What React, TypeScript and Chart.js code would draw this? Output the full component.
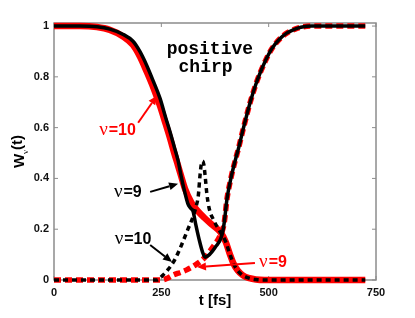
import React, { useEffect, useRef } from "react";
import { Chart, registerables } from "chart.js";
Chart.register(...registerables);

const xTicks = [0, 250, 500, 750];
const xTickLabels = ["0", "250", "500", "750"];
const yTicks = [0, 0.2, 0.4, 0.6, 0.8, 1];
const yTickLabels = ["0", "0.2", "0.4", "0.6", "0.8", "1"];

// nu=10 (red solid)
const redSolidT = [0, 60, 100, 130, 160, 184, 200, 216, 232, 247, 260, 270, 280, 289, 296, 305, 320, 333, 350, 370, 387, 400, 410, 418, 428, 440, 455, 470, 490, 725];
const redSolidW = [1, 1, 0.996, 0.985, 0.96, 0.925, 0.88, 0.82, 0.755, 0.685, 0.615, 0.56, 0.5, 0.45, 0.41, 0.36, 0.305, 0.275, 0.245, 0.215, 0.19, 0.15, 0.1, 0.065, 0.037, 0.018, 0.007, 0.002, 0, 0];

// nu=9 (red dashed)
const redDashT = [0, 250, 265, 278, 295, 309, 330, 352, 370, 387, 396, 403, 412, 422, 430, 440, 457, 470, 480, 493, 507, 525, 542, 560, 575, 600, 725];
const redDashW = [0, 0, 0.008, 0.02, 0.03, 0.04, 0.06, 0.09, 0.13, 0.175, 0.22, 0.32, 0.4, 0.47, 0.52, 0.59, 0.7, 0.77, 0.815, 0.865, 0.91, 0.948, 0.972, 0.987, 0.995, 1, 1];

// nu=9 (black solid)
const blackSolidT = [0, 60, 100, 130, 160, 184, 200, 216, 232, 247, 260, 270, 280, 289, 296, 304, 312, 318, 324, 330, 338, 346, 352, 362, 376, 390, 396, 403, 412, 422, 430, 440, 457, 470, 480, 493, 507, 525, 542, 560, 575, 600, 725];
const blackSolidW = [1, 1, 0.997, 0.988, 0.968, 0.94, 0.9, 0.845, 0.78, 0.715, 0.64, 0.585, 0.525, 0.47, 0.41, 0.35, 0.3, 0.283, 0.27, 0.22, 0.16, 0.11, 0.09, 0.1, 0.13, 0.17, 0.22, 0.32, 0.4, 0.47, 0.52, 0.59, 0.7, 0.77, 0.815, 0.865, 0.91, 0.948, 0.972, 0.987, 0.995, 1, 1];

// nu=10 (black dashed)
const blackDashT = [0, 240, 254, 265, 278, 290, 300, 312, 324, 331, 336, 340, 343, 346, 349, 352, 356, 361, 372, 387, 400, 410, 418, 428, 440, 455, 470, 490, 725];
const blackDashW = [0, 0, 0.02, 0.04, 0.07, 0.11, 0.15, 0.2, 0.25, 0.29, 0.33, 0.41, 0.455, 0.468, 0.455, 0.41, 0.34, 0.285, 0.235, 0.19, 0.15, 0.1, 0.065, 0.037, 0.018, 0.007, 0.002, 0, 0];

const RED = "#ff0000";
const BLACK = "#000000";

// annotation labels
const noteSuffix = ["=10", "=9", "=10", "=9"];
const noteColor = [RED, BLACK, BLACK, RED];
const noteT = [148, 172, 184, 510];
const noteW = [0.588, 0.343, 0.158, 0.067];
const arrowFromT = [196, 224, 224, 468];
const arrowFromW = [0.619, 0.347, 0.138, 0.067];
const arrowToT = [240, 289, 275, 333];
const arrowToW = [0.726, 0.379, 0.071, 0.051];

const titleLines = ["positive", "chirp"];
const titleT = [363, 353];
const titleW = [0.907, 0.836];

const pts = (t: number[], w: number[]) => t.map((x, i) => ({ x, y: w[i] }));

const decorPlugin = {
  id: "decor",
  beforeDatasetsDraw(chart: any) {
    const { ctx, chartArea: a, scales } = chart;
    ctx.save();
    ctx.strokeStyle = "#8c8c8c";
    ctx.lineWidth = 1.5;
    ctx.strokeRect(a.left, a.top, a.right - a.left, a.bottom - a.top);
    const tl = 4;
    ctx.lineWidth = 1;
    ctx.beginPath();
    xTicks.forEach((v) => {
      const x = scales.x.getPixelForValue(v);
      ctx.moveTo(x, a.bottom);
      ctx.lineTo(x, a.bottom - tl);
      ctx.moveTo(x, a.top);
      ctx.lineTo(x, a.top + tl);
    });
    yTicks.forEach((v) => {
      const y = scales.y.getPixelForValue(v);
      ctx.moveTo(a.left, y);
      ctx.lineTo(a.left + tl, y);
      ctx.moveTo(a.right, y);
      ctx.lineTo(a.right - tl, y);
    });
    ctx.stroke();
    ctx.restore();
  },
  afterDatasetsDraw(chart: any) {
    const { ctx, chartArea: a, scales } = chart;
    const X = (v: number) => scales.x.getPixelForValue(v);
    const Y = (v: number) => scales.y.getPixelForValue(v);
    ctx.save();
    ctx.fillStyle = "#000";
    ctx.font = "bold 18px 'Liberation Mono', 'DejaVu Sans Mono', monospace";
    ctx.textAlign = "center";
    ctx.textBaseline = "middle";
    titleLines.forEach((s, i) => ctx.fillText(s, X(titleT[i]), Y(titleW[i])));

    noteSuffix.forEach((suf, i) => {
      const col = noteColor[i];
      ctx.fillStyle = col;
      ctx.strokeStyle = col;
      ctx.font = "19px 'Liberation Serif', 'DejaVu Serif', serif";
      const wNu = ctx.measureText("ν").width;
      ctx.font = "bold 16px 'Liberation Sans', Arial, sans-serif";
      const wSuf = ctx.measureText(suf).width;
      const total = wNu + 1 + wSuf;
      const cx = X(noteT[i]);
      const cy = Y(noteW[i]);
      const x0 = cx - total / 2;
      ctx.textAlign = "left";
      ctx.textBaseline = "middle";
      ctx.font = "19px 'Liberation Serif', 'DejaVu Serif', serif";
      ctx.fillText("ν", x0, cy - 1);
      ctx.font = "bold 16px 'Liberation Sans', Arial, sans-serif";
      ctx.fillText(suf, x0 + wNu + 1, cy);

      const fx = X(arrowFromT[i]), fy = Y(arrowFromW[i]);
      const tx = X(arrowToT[i]), ty = Y(arrowToW[i]);
      const ang = Math.atan2(ty - fy, tx - fx);
      const hl = 9, hw = 4;
      const bx = tx - hl * Math.cos(ang), by = ty - hl * Math.sin(ang);
      ctx.lineWidth = 2;
      ctx.beginPath();
      ctx.moveTo(fx, fy);
      ctx.lineTo(bx, by);
      ctx.stroke();
      ctx.beginPath();
      ctx.moveTo(tx, ty);
      ctx.lineTo(bx + hw * Math.sin(ang), by - hw * Math.cos(ang));
      ctx.lineTo(bx - hw * Math.sin(ang), by + hw * Math.cos(ang));
      ctx.closePath();
      ctx.fill();
    });

    ctx.fillStyle = "#000";
    ctx.textAlign = "center";
    ctx.textBaseline = "middle";
    ctx.font = "bold 15px 'Liberation Sans', Arial, sans-serif";
    ctx.fillText("t [fs]", (a.left + a.right) / 2, 301);

    ctx.translate(20, (a.top + a.bottom) / 2);
    ctx.rotate(-Math.PI / 2);
    ctx.font = "bold 15px 'Liberation Sans', Arial, sans-serif";
    const wW = ctx.measureText("W").width;
    ctx.font = "9px 'Liberation Serif', serif";
    const wv = ctx.measureText("ν").width;
    ctx.font = "bold 15px 'Liberation Sans', Arial, sans-serif";
    const wt = ctx.measureText("(t)").width;
    const tot = wW + wv + wt;
    let px = -tot / 2;
    ctx.textAlign = "left";
    ctx.fillText("W", px, 0);
    px += wW;
    ctx.font = "9px 'Liberation Serif', serif";
    ctx.fillText("ν", px, 6);
    px += wv;
    ctx.font = "bold 15px 'Liberation Sans', Arial, sans-serif";
    ctx.fillText("(t)", px, -2);
    ctx.restore();
  },
};

export default function App() {
  const ref = useRef<HTMLCanvasElement | null>(null);
  useEffect(() => {
    if (!ref.current) return;
    const chart = new Chart(ref.current, {
      type: "line",
      data: {
        datasets: [
          {
            label: "nu=10 black dashed",
            data: pts(blackDashT, blackDashW),
            borderColor: BLACK,
            borderWidth: 3.5,
            borderDash: [5, 4],
            order: 0,
          },
          {
            label: "nu=9 black solid",
            data: pts(blackSolidT, blackSolidW),
            borderColor: BLACK,
            borderWidth: 3.5,
            order: 1,
          },
          {
            label: "nu=9 red dashed",
            data: pts(redDashT, redDashW),
            borderColor: RED,
            borderWidth: 5.5,
            borderDash: [7, 4],
            order: 2,
          },
          {
            label: "nu=10 red solid",
            data: pts(redSolidT, redSolidW),
            borderColor: RED,
            borderWidth: 6.5,
            order: 3,
          },
        ] as any,
      },
      options: {
        animation: false,
        responsive: false,
        parsing: false as any,
        clip: false as any,
        elements: {
          point: { radius: 0 },
          line: { cubicInterpolationMode: "monotone", fill: false, borderCapStyle: "butt" },
        },
        layout: { padding: { top: 23, right: 39, left: 0, bottom: 0 } },
        plugins: { legend: { display: false }, tooltip: { enabled: false } },
        scales: {
          x: {
            type: "linear",
            min: 0,
            max: 750,
            grid: { display: false, drawTicks: false },
            border: { display: false },
            afterBuildTicks: (s: any) => {
              s.ticks = xTicks.map((v) => ({ value: v }));
            },
            afterFit: (s: any) => {
              s.height = 38;
            },
            ticks: {
              padding: 6,
              color: "#111",
              font: { family: "'Liberation Sans', Arial, sans-serif", size: 11, weight: "bold" },
              maxRotation: 0,
              callback: (v: number) => {
                const i = xTicks.indexOf(v);
                return i >= 0 ? xTickLabels[i] : "";
              },
            },
          },
          y: {
            type: "linear",
            min: 0,
            max: 1.012,
            grid: { display: false, drawTicks: false },
            border: { display: false },
            afterBuildTicks: (s: any) => {
              s.ticks = yTicks.map((v) => ({ value: v }));
            },
            afterFit: (s: any) => {
              s.width = 54;
            },
            ticks: {
              padding: 5,
              color: "#111",
              font: { family: "'Liberation Sans', Arial, sans-serif", size: 11, weight: "bold" },
              callback: (v: number) => {
                const i = yTicks.findIndex((t) => Math.abs(t - v) < 1e-9);
                return i >= 0 ? yTickLabels[i] : "";
              },
            },
          },
        },
      } as any,
      plugins: [decorPlugin],
    });
    return () => chart.destroy();
  }, []);
  return (
    <div style={{ position: "fixed", left: 0, top: 0, width: 415, height: 318, background: "#fff" }}>
      <canvas ref={ref} width={415} height={318} style={{ width: 415, height: 318 }} />
    </div>
  );
}
